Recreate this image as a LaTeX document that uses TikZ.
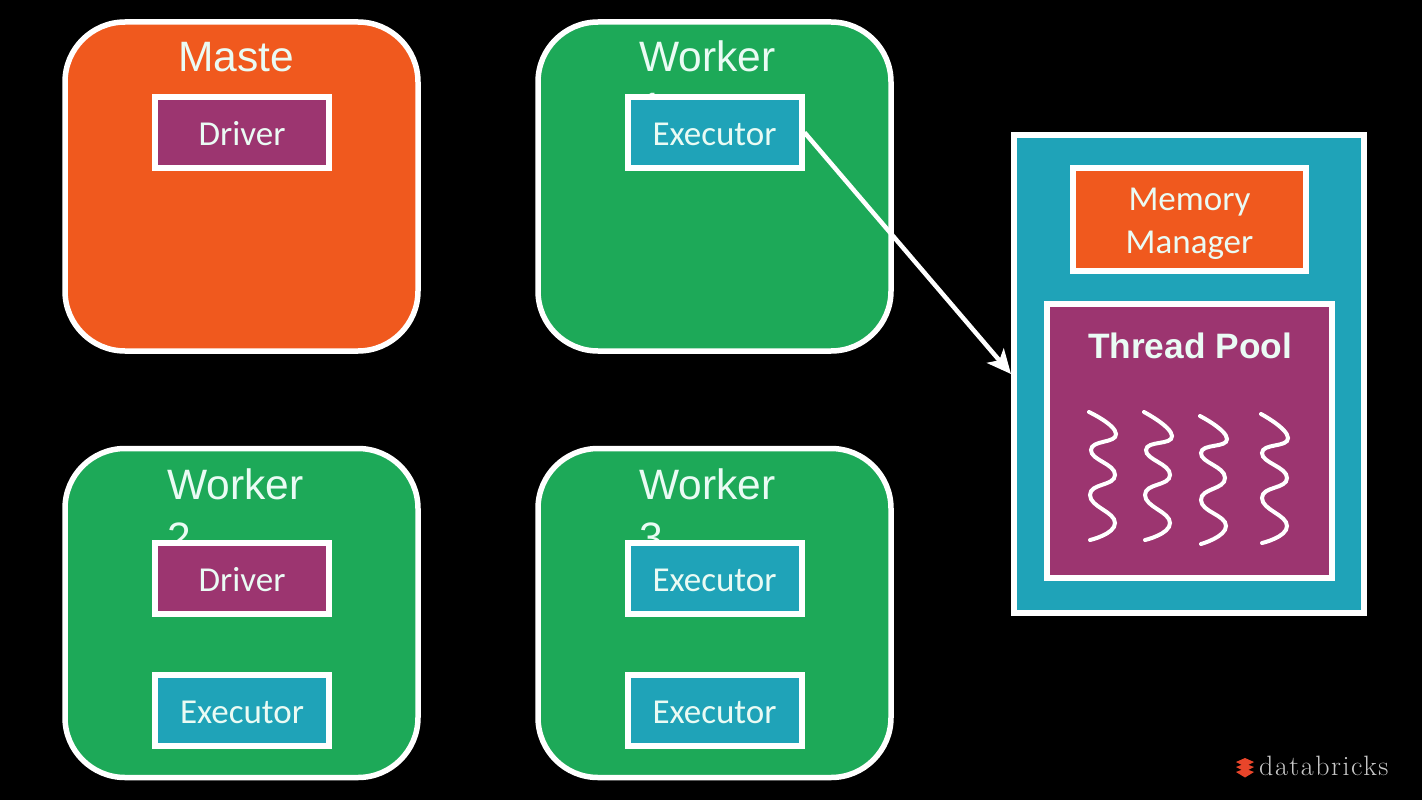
\documentclass[tikz,border=0pt]{standalone}
\usepackage{fontspec}
\usetikzlibrary{arrows.meta}
\setmainfont{Carlito}
\newfontfamily\headfont{Liberation Sans}
\newfontfamily\logofont[LetterSpace=5.5]{Latin Modern Roman}
\definecolor{bgblack}{HTML}{000000}
\definecolor{sparkorange}{HTML}{F0591E}
\definecolor{sparkgreen}{HTML}{1DA958}
\definecolor{sparkteal}{HTML}{1FA3B8}
\definecolor{sparkpurple}{HTML}{9C3570}
\definecolor{softwhite}{HTML}{EAFBF4}
\definecolor{logored}{HTML}{E8452A}
\definecolor{logogrey}{HTML}{C8C8C8}
\tikzset{
  panel/.style={draw=white,line width=5.5pt,rounded corners=60pt,minimum width=353pt,minimum height=329pt,inner sep=0pt},
  smallbox/.style={draw=white,line width=6pt,minimum width=174pt,minimum height=71pt,inner sep=0pt,text=softwhite,
    font=\fontsize{35}{35}\selectfont,text height=26pt,text depth=0pt},
  headtext/.style={anchor=base,inner sep=0pt,text=softwhite,font=\headfont\fontsize{42.5}{42.5}\selectfont},
  thread/.style={draw=white,line width=4pt,line cap=round,smooth,tension=0.9},
  logolayer/.style={fill=logored,draw=none}
}
\begin{document}
\begin{tikzpicture}[x=1pt,y=-1pt]
\useasboundingbox[fill=bgblack] (0,0) rectangle (1422,800);
% panels
\node[panel,fill=sparkorange] (master) at (241.5,186.5) {};
\node[panel,fill=sparkgreen] (worker1) at (714.5,186.5) {};
\node[panel,fill=sparkgreen] (worker2) at (241.5,613) {};
\node[panel,fill=sparkgreen] (worker3) at (714.5,613) {};
% titles
\node[headtext] (tm) at (236,71.5) {Maste};
\node[headtext] (tw1) at (707.5,71.5) {Worker};
\node[headtext] (tw1b) at (652,122) {1};
\node[headtext] (tw2) at (235.5,499) {Worker};
\node[headtext] (tw2b) at (179,552) {2};
\node[headtext] (tw3) at (707.5,499) {Worker};
\node[headtext] (tw3b) at (651,552) {3};
% small boxes
\node[smallbox,fill=sparkpurple] (driver1) at (242,132.5) {Driver};
\node[smallbox,fill=sparkteal] (exec1) at (714.5,132.5) {Executor};
\node[smallbox,fill=sparkpurple] (driver2) at (242,578) {Driver};
\node[smallbox,fill=sparkteal] (exec2) at (242,710.5) {Executor};
\node[smallbox,fill=sparkteal] (exec3) at (714.5,578) {Executor};
\node[smallbox,fill=sparkteal] (exec4) at (714.5,710.5) {Executor};
% detail panel
\node[draw=white,line width=6pt,fill=sparkteal,minimum width=350pt,minimum height=478pt,inner sep=0pt] (detail) at (1189,374) {};
\node[draw=white,line width=6pt,fill=sparkorange,minimum width=233pt,minimum height=103pt,inner sep=0pt] (memory) at (1189.5,219.5) {};
\node[inner sep=0pt,text=softwhite,font=\fontsize{35}{43}\selectfont,align=center] (memorytext) at (1189.5,224) {Memory\\Manager};
\node[draw=white,line width=6pt,fill=sparkpurple,minimum width=285pt,minimum height=274pt,inner sep=0pt] (pool) at (1189.5,441) {};
\node[anchor=base,inner sep=0pt,text=softwhite,font=\headfont\bfseries\fontsize{35.3}{35.3}\selectfont] (pooltitle) at (1190,358) {Thread Pool};
% threads
\draw[thread] plot coordinates {(1089,412) (1116,434) (1091,450) (1115,475) (1090,495) (1115,523) (1090,540)};
\draw[thread] plot coordinates {(1144,412) (1172,436) (1146,450) (1170,475) (1145,495) (1170,523) (1145,540)};
\draw[thread] plot coordinates {(1200,416) (1227,439) (1201,453) (1225,478) (1201,500) (1226,526) (1201,544)};
\draw[thread] plot coordinates {(1261,414) (1288,438) (1262,453) (1287,478) (1262,498) (1287,526) (1262,543)};
% connector
\draw[draw=white,line width=4.5pt,-{Stealth[length=24pt,width=22pt,inset=6pt]}] (exec1.east) -- (detail.west);
% logo
\fill[logolayer] (1236,762) -- (1245,758) -- (1254,762) -- (1245,766.5) -- cycle;
\fill[logolayer] (1236,767) -- (1245,763.5) -- (1254,767) -- (1245,771.5) -- cycle;
\fill[logolayer] (1236,772) -- (1245,768.5) -- (1254,772) -- (1245,777.5) -- cycle;
\node[anchor=base west,inner sep=0pt,text=logogrey,font=\logofont\fontsize{28}{28}\selectfont] (logo) at (1259,775) {databricks};
\end{tikzpicture}
\end{document}
